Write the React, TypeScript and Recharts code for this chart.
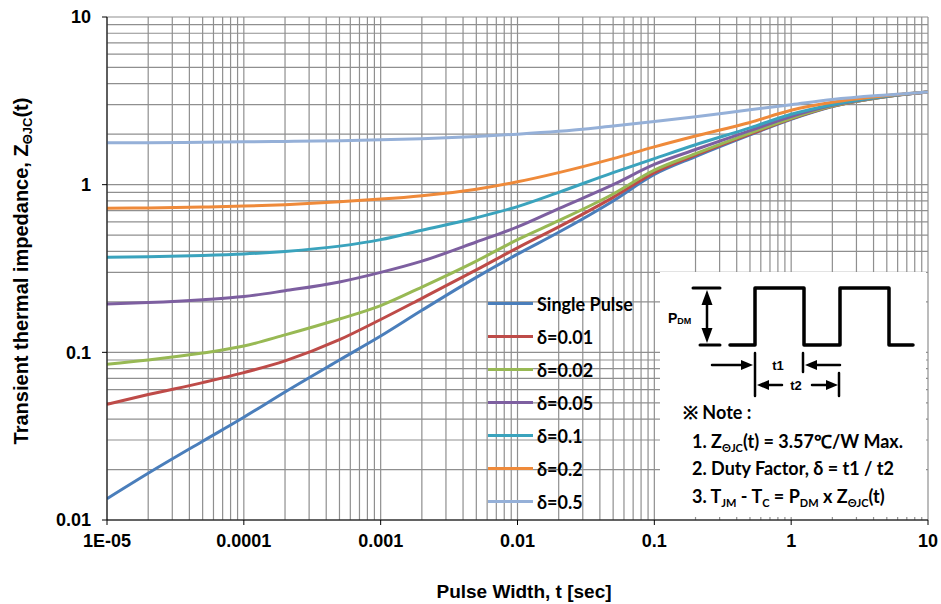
import React from "react";
import { LineChart, Line, XAxis, YAxis, CartesianGrid, Legend } from "recharts";

// pulse width t [sec]
const pulseWidth = [1e-5, 2e-5, 5e-5, 1e-4, 2e-4, 5e-4, 1e-3, 2e-3, 5e-3, 1e-2, 2e-2, 5e-2, 0.1, 0.2, 0.5, 1, 2, 5, 10];

// Z thetaJC(t)
const singlePulse = [0.0134, 0.019, 0.0295, 0.041, 0.058, 0.09, 0.125, 0.178, 0.28, 0.385, 0.52, 0.8, 1.15, 1.47, 1.98, 2.45, 2.92, 3.35, 3.57];
const duty001 = [0.049, 0.056, 0.066, 0.0757, 0.089, 0.119, 0.157, 0.21, 0.31, 0.42, 0.56, 0.84, 1.18, 1.5, 2.0, 2.47, 2.93, 3.36, 3.57];
const duty002 = [0.085, 0.09, 0.099, 0.109, 0.127, 0.158, 0.19, 0.245, 0.35, 0.47, 0.61, 0.88, 1.22, 1.53, 2.03, 2.49, 2.94, 3.36, 3.57];
const duty005 = [0.194, 0.198, 0.206, 0.215, 0.233, 0.263, 0.3, 0.35, 0.455, 0.56, 0.72, 1.0, 1.32, 1.62, 2.1, 2.55, 2.97, 3.37, 3.57];
const duty01 = [0.369, 0.372, 0.378, 0.386, 0.4, 0.43, 0.47, 0.535, 0.635, 0.74, 0.9, 1.18, 1.43, 1.73, 2.18, 2.63, 3.0, 3.38, 3.57];
const duty02 = [0.723, 0.727, 0.735, 0.745, 0.76, 0.79, 0.82, 0.86, 0.94, 1.04, 1.18, 1.43, 1.68, 1.95, 2.35, 2.78, 3.1, 3.4, 3.57];
const duty05 = [1.78, 1.78, 1.79, 1.8, 1.81, 1.83, 1.85, 1.88, 1.94, 2.0, 2.08, 2.24, 2.38, 2.54, 2.8, 3.0, 3.22, 3.43, 3.57];

const xTicks = [1e-5, 1e-4, 1e-3, 1e-2, 0.1, 1, 10];
const xTickLabels = ["1E-05", "0.0001", "0.001", "0.01", "0.1", "1", "10"];
const yTicks = [0.01, 0.1, 1, 10];
const yTickLabels = ["0.01", "0.1", "1", "10"];

const series = [
  { key: "single", name: "Single Pulse", color: "#4a7ebb", values: singlePulse },
  { key: "d001", name: "δ=0.01", color: "#be4b48", values: duty001 },
  { key: "d002", name: "δ=0.02", color: "#98b954", values: duty002 },
  { key: "d005", name: "δ=0.05", color: "#7d5fa0", values: duty005 },
  { key: "d01", name: "δ=0.1", color: "#3aa3bd", values: duty01 },
  { key: "d02", name: "δ=0.2", color: "#ef8a3a", values: duty02 },
  { key: "d05", name: "δ=0.5", color: "#95b0d8", values: duty05 },
];

const data = pulseWidth.map((t, i) => {
  const row: any = { t };
  series.forEach((s) => (row[s.key] = s.values[i]));
  return row;
});

// log gridlines 1..9 x 10^n
const gridValues = (lo: number, hi: number) => {
  const out: number[] = [];
  for (let e = lo; e < hi; e++) for (let m = 1; m < 10; m++) out.push(m * Math.pow(10, e));
  out.push(Math.pow(10, hi));
  return out;
};
const xGrid = gridValues(-5, 1);
const yGrid = gridValues(-2, 1);

const axisFont = "'Liberation Sans', Arial, sans-serif";
const noteFont = "Lato, 'Open Sans', sans-serif";

const fmtX = (v: number) => xTickLabels[xTicks.findIndex((t) => Math.abs(t - v) / t < 1e-6)] ?? String(v);
const fmtY = (v: number) => yTickLabels[yTicks.findIndex((t) => Math.abs(t - v) / t < 1e-6)] ?? String(v);

const logFrac = (v: number, min: number, max: number) =>
  (Math.log10(v) - Math.log10(min)) / (Math.log10(max) - Math.log10(min));

const renderLegend = (props: any) => {
  const items = props.payload || [];
  return (
    <div style={{ fontFamily: noteFont, fontWeight: 700, fontSize: 18 }}>
      {items.map((p: any) => (
        <div key={p.value} style={{ display: "flex", alignItems: "center", height: 33 }}>
          <div style={{ width: 45, height: 3, background: p.color, marginRight: 4 }} />
          <span style={{ color: "#000" }}>{p.value}</span>
        </div>
      ))}
    </div>
  );
};

const Sub = ({ children, size = 11 }: { children: string; size?: number }) => (
  <tspan fontSize={size} dy={4}>
    {children}
  </tspan>
);

const Overlay = () => (
  <svg width={941} height={604} style={{ position: "absolute", left: 0, top: 0, pointerEvents: "none" }}>
    <text
      transform="translate(28,271) rotate(-90)"
      textAnchor="middle"
      fontFamily={axisFont}
      fontWeight={700}
      fontSize={20}
    >
      Transient thermal impedance, Z<Sub size={13}>ΘJC</Sub>
      <tspan dy={-4}>(t)</tspan>
    </text>
    <text x={524} y={598} textAnchor="middle" fontFamily={axisFont} fontWeight={700} fontSize={19}>
      Pulse Width, t [sec]
    </text>

    <rect x={660} y={272} width={266} height={245} fill="#fff" />

    {/* pulse diagram */}
    <g stroke="#000" fill="none" strokeLinejoin="round" strokeLinecap="round">
      <polyline
        points="730,345 755,345 755,288 804,288 804,345 840,345 840,288 889,288 889,345 913,345"
        strokeWidth={3.5}
      />
      <line x1={693} y1={288} x2={720} y2={288} strokeWidth={3} />
      <line x1={700} y1={345} x2={720} y2={345} strokeWidth={3} />
      <line x1={707} y1={300} x2={707} y2={333} strokeWidth={2.5} />
      <line x1={755} y1={353} x2={755} y2={396} strokeWidth={2.5} />
      <line x1={803} y1={353} x2={803} y2={372} strokeWidth={2.5} />
      <line x1={839} y1={373} x2={839} y2={396} strokeWidth={2.5} />
      <line x1={712} y1={365} x2={745} y2={365} strokeWidth={2.5} />
      <line x1={840} y1={365} x2={814} y2={365} strokeWidth={2.5} />
      <line x1={782} y1={385} x2={765} y2={385} strokeWidth={2.5} />
      <line x1={812} y1={385} x2={830} y2={385} strokeWidth={2.5} />
    </g>
    <g fill="#000">
      <polygon points="707,290 701.5,305 712.5,305" />
      <polygon points="707,343 701.5,328 712.5,328" />
      <polygon points="753,365 741,360 741,370" />
      <polygon points="805,365 817,360 817,370" />
      <polygon points="757,385 769,380 769,390" />
      <polygon points="838,385 826,380 826,390" />
    </g>
    <g fontFamily={axisFont} fontWeight={700} fill="#000">
      <text x={668} y={323} fontSize={14}>
        P<tspan fontSize={9} dy={1}>DM</tspan>
      </text>
      <text x={778} y={370} fontSize={13} textAnchor="middle">t1</text>
      <text x={796} y={390} fontSize={13} textAnchor="middle">t2</text>
    </g>

    <g fontFamily={noteFont} fontWeight={700} fontSize={18} fill="#000">
      <text x={683} y={419}>※ Note :</text>
      <text x={692} y={448}>
        1. Z<Sub>ΘJC</Sub>
        <tspan dy={-4}>(t) = 3.57℃/W Max.</tspan>
      </text>
      <text x={692} y={475}>2. Duty Factor, δ = t1 / t2</text>
      <text x={692} y={503}>
        3. T<Sub>JM</Sub>
        <tspan dy={-4}> - T</tspan>
        <Sub>C</Sub>
        <tspan dy={-4}> = P</tspan>
        <Sub>DM</Sub>
        <tspan dy={-4}> x Z</tspan>
        <Sub>ΘJC</Sub>
        <tspan dy={-4}>(t)</tspan>
      </text>
    </g>
  </svg>
);

export default function App() {
  return (
    <div style={{ position: "absolute", left: 0, top: 0, width: 941, height: 604, background: "#fff" }}>
      <LineChart width={941} height={604} data={data} margin={{ top: 17, right: 13, bottom: 0, left: 47 }}>
        <CartesianGrid
          stroke="#8f8f8f"
          strokeWidth={1.2}
          verticalCoordinatesGenerator={({ xAxis, offset }: any) =>
            xGrid.map((v) =>
              xAxis && typeof xAxis.scale === "function"
                ? xAxis.scale(v)
                : offset.left + offset.width * logFrac(v, 1e-5, 10)
            )
          }
          horizontalCoordinatesGenerator={({ yAxis, offset }: any) =>
            yGrid.map((v) =>
              yAxis && typeof yAxis.scale === "function"
                ? yAxis.scale(v)
                : offset.top + offset.height * (1 - logFrac(v, 0.01, 10))
            )
          }
        />
        <XAxis
          dataKey="t"
          type="number"
          scale="log"
          domain={[1e-5, 10]}
          ticks={xTicks}
          tickFormatter={fmtX}
          allowDataOverflow
          height={84}
          tickSize={5}
          tickMargin={9}
          stroke="#000"
          tick={{ fill: "#000", fontFamily: axisFont, fontWeight: 700, fontSize: 18 }}
        />
        <XAxis xAxisId="top" orientation="top" type="number" scale="log" domain={[1e-5, 10]} height={0} tick={false} tickLine={false} stroke="#333" />
        <YAxis
          type="number"
          scale="log"
          domain={[0.01, 10]}
          ticks={yTicks}
          tickFormatter={fmtY}
          allowDataOverflow
          width={60}
          tickSize={5}
          tickMargin={11}
          stroke="#000"
          tick={{ fill: "#000", fontFamily: axisFont, fontWeight: 700, fontSize: 18 }}
        />
        <YAxis yAxisId="right" orientation="right" type="number" scale="log" domain={[0.01, 10]} width={0} tick={false} tickLine={false} stroke="#333" />
        <Legend
          layout="vertical"
          align="center"
          verticalAlign="middle"
          content={renderLegend}
          wrapperStyle={{ left: 488, top: 287, width: "auto", bottom: "auto", right: "auto" }}
        />
        {series.map((s) => (
          <Line
            key={s.key}
            dataKey={s.key}
            name={s.name}
            stroke={s.color}
            strokeWidth={3}
            type="monotone"
            dot={false}
            activeDot={false}
            isAnimationActive={false}
          />
        ))}
      </LineChart>
      <Overlay />
    </div>
  );
}
